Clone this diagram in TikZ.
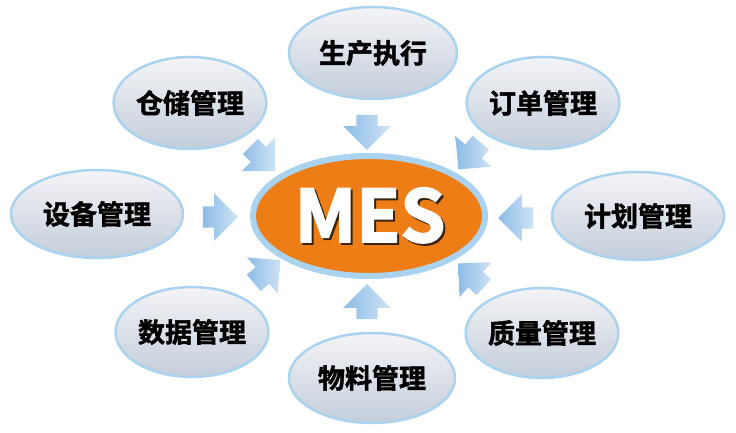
\documentclass[tikz,border=0pt]{standalone}
\usepackage{fontspec}
\newfontfamily\labelfont[FakeBold=1.6]{Noto Sans CJK SC Bold}
\newfontfamily\mesfont[FakeBold=2.5]{Noto Sans CJK SC Bold}
\usetikzlibrary{shapes.geometric,shapes.arrows}
\definecolor{rim}{HTML}{A9D3EE}
\definecolor{orng}{HTML}{EE7D16}
\definecolor{ftop}{HTML}{F4F4F7}
\definecolor{fbot}{HTML}{C3CDDA}
\definecolor{atail}{HTML}{8CBCE6}
\definecolor{atip}{HTML}{CFE3F5}
\definecolor{mshadow}{HTML}{3A2410}
\tikzset{
  sat/.style={ellipse, draw=rim, line width=2.5pt, top color=ftop, bottom color=fbot,
    inner sep=0pt, font=\labelfont\fontsize{27}{30}\selectfont, text=black},
  barrow/.style={single arrow, draw=none, inner sep=0pt, outer sep=0pt, minimum height=35pt,
    single arrow head extend=13pt, single arrow head indent=0pt,
    left color=atail, right color=atip},
  mestext/.style={anchor=base, font=\mesfont\fontsize{72}{76}\selectfont}
}
\newcommand{\shaftw}{\rule{0pt}{21pt}}
\begin{document}
\begin{tikzpicture}[x=1pt,y=1pt]
\useasboundingbox (0,0) rectangle (736,433);
% satellite ellipses
\node[sat, minimum width=168pt, minimum height=92pt] (prod) at (373,380) {生产执行};
\node[sat, minimum width=128pt, minimum height=92pt] (store) at (190,330) {仓储管理};
\node[sat, minimum width=130pt, minimum height=92pt] (order) at (543,330) {订单管理};
\node[sat, minimum width=172pt, minimum height=88pt] (equip) at (97,219) {设备管理};
\node[sat, minimum width=172pt, minimum height=88pt] (plan) at (638,217) {计划管理};
\node[sat, minimum width=130pt, minimum height=90pt] (data) at (192,101) {数据管理};
\node[sat, minimum width=130pt, minimum height=90pt] (quality) at (542,100) {质量管理};
\node[sat, minimum width=166pt, minimum height=90pt] (material) at (372,55) {物料管理};
% centre
\node[ellipse, draw=rim, line width=6pt, fill=orng, minimum width=232pt, minimum height=120pt] (mes) at (369,217) {};
\node[mestext, text=mshadow] (messhadow) at (372,189) {MES};
\node[mestext, text=white] (meslabel) at (370,191) {MES};
% arrows
\node[barrow, rotate=-90] (aprod) at (367,306) {\shaftw};
\node[barrow, rotate=90] (amaterial) at (367,126) {\shaftw};
\node[barrow, rotate=0] (aequip) at (215,216) {\shaftw};
\node[barrow, rotate=180] (aplan) at (521,215) {\shaftw};
\node[barrow, rotate=-45] (astore) at (259,278) {\shaftw};
\node[barrow, rotate=-130] (aorder) at (473,281) {\shaftw};
\node[barrow, rotate=40] (adata) at (263,158) {\shaftw};
\node[barrow, rotate=137] (aquality) at (475,154) {\shaftw};
\end{tikzpicture}
\end{document}
